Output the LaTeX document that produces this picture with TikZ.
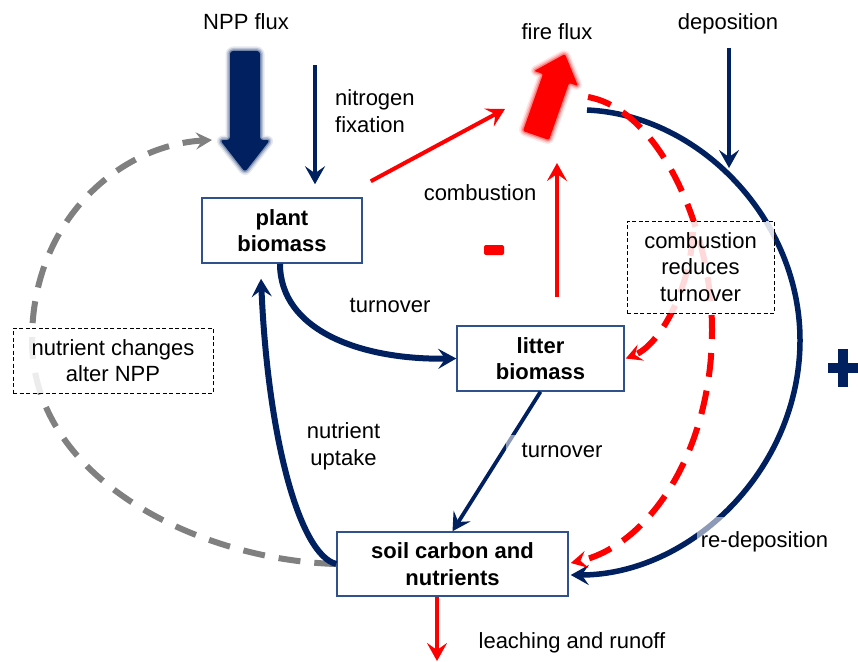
\documentclass[tikz,border=0pt]{standalone}
\usepackage{fontspec}
\setmainfont{Liberation Sans}
\usetikzlibrary{arrows.meta,calc}
\definecolor{navy}{RGB}{0,32,96}
\definecolor{boxblue}{RGB}{47,82,143}
\definecolor{fred}{RGB}{255,0,0}
\definecolor{dgray}{RGB}{128,128,128}
\tikzset{
  bigtip/.tip={Stealth[length=18pt,width=20pt,inset=7pt]},
  smalltip/.tip={Stealth[length=16pt,width=17pt,inset=6pt]},
  lbl/.style={font=\fontsize{22}{26.5}\selectfont, inner sep=0pt, align=center},
  patch/.style={fill=white, fill opacity=0.55, text opacity=1},
  stock/.style={draw=boxblue, line width=1.5pt, fill=white, inner sep=0pt,
    font=\fontsize{22}{26.5}\selectfont\bfseries, align=center},
  note/.style={draw=black, line width=0.9pt, dash pattern=on 4pt off 2.5pt,
    fill=white, fill opacity=0.85, text opacity=1, inner sep=0pt,
    font=\fontsize{22}{26.5}\selectfont, align=center},
  thickflow/.style={draw=navy, line width=6pt, -bigtip},
  thinflow/.style={draw=navy, line width=3.8pt, -bigtip},
  redflow/.style={draw=fred, line width=4pt, -bigtip},
  reddash/.style={draw=fred, line width=6pt, dash pattern=on 24pt off 14pt, -smalltip},
  graydash/.style={draw=dgray, line width=6pt, dash pattern=on 22pt off 14pt, -smalltip},
}
\begin{document}
\begin{tikzpicture}[x=1pt,y=-1pt]
\useasboundingbox (0,0) rectangle (858,661);

% stocks
\node[stock, minimum width=160pt, minimum height=65pt] (plant) at (282,230.5) {plant\\biomass};
\node[stock, minimum width=167pt, minimum height=65pt] (litter) at (540.5,358.5) {litter\\biomass};
\node[stock, minimum width=231pt, minimum height=64pt] (soil) at (452.5,564) {soil carbon and\\nutrients};

% free ends
\coordinate (nppL) at (212,140);
\coordinate (nfixTop) at (315,65);
\coordinate (depTop) at (729,48);
\coordinate (depTip) at (729,168);
\coordinate (fireIn) at (505,109);
\coordinate (fireBot) at (557,163);
\coordinate (arcStart) at (587,110);
\coordinate (rdStart) at (588,97);
\coordinate (rbStart) at (693,232);
\coordinate (leachEnd) at (437,661);

% grey feedback
\draw[graydash] (soil.west) .. controls (200,560) and (32,480) .. (32,340)
  .. controls (32,220) and (120,145) .. (nppL);

% navy flows
\draw[thickflow] (soil.west) .. controls (300,555) and (268,440) .. ($(plant.south)+(-21,15)$);
\draw[thickflow] ($(plant.south)+(-2,0)$) .. controls (280,330) and (360,360) .. (litter.west);
\draw[thinflow] (litter.south) -- (soil.north);
\draw[thinflow] (nfixTop) -- ($(plant.north)+(33,-13)$);
\draw[draw=navy, line width=5.5pt, -bigtip] (arcStart) .. controls (700,115) and (800,220) .. (800,340)
  .. controls (800,470) and (690,575) .. ($(soil.east)+(2,11)$);
\draw[thinflow] (depTop) -- (depTip);

% red flows
\draw[redflow] ($(plant.north east)+(8,-16)$) -- (fireIn);
\draw[redflow] ($(litter.north)+(16.5,-28)$) -- (fireBot);
\draw[reddash] (rdStart) .. controls (660,110) and (712,230) .. (712,330)
  .. controls (712,450) and (650,545) .. ($(soil.east)+(2,-1)$);
\draw[reddash] (rbStart) .. controls (690,290) and (660,345) .. ($(litter.east)+(1,0)$);
\draw[draw=fred, line width=3.5pt, -bigtip] ($(soil.south)+(-15.5,0)$) -- (leachEnd);

% NPP flux arrow (soft edged)
\foreach \w/\o in {9/0.1,6/0.18,3/0.3}
  \draw[navy, line width=\w pt, draw opacity=\o, line join=round, rounded corners=3pt]
    (230,51) -- (260,51) -- (260,140) -- (270,140) -- (245,172) -- (220,140) -- (230,140) -- cycle;
\fill[navy, rounded corners=3pt]
  (230,51) -- (260,51) -- (260,140) -- (270,140) -- (245,172) -- (220,140) -- (230,140) -- cycle;

% fire flux arrow (soft edged)
\foreach \w/\o in {9/0.1,6/0.18,3/0.3}
  \draw[fred, line width=\w pt, draw opacity=\o, line join=round, rounded corners=2pt]
    (523,131) -- (543,74) -- (534,71) -- (565,54) -- (578,86) -- (569,83) -- (549,140) -- cycle;
\fill[fred, rounded corners=2pt]
  (523,131) -- (543,74) -- (534,71) -- (565,54) -- (578,86) -- (569,83) -- (549,140) -- cycle;

% labels
\node[lbl, anchor=base] (npplbl) at (246,30) {NPP flux};
\node[lbl, anchor=base west, align=left] (nfixlbl) at (335,132) {nitrogen\\fixation};
\node[lbl, anchor=base] (firelbl) at (557,40) {fire flux};
\node[lbl, anchor=base] (deplbl) at (728,30) {deposition};
\node[lbl, anchor=base] (comblbl) at (480,200) {combustion};
\node[lbl, anchor=base] (turn1) at (390,312) {turnover};
\node[lbl, patch, anchor=base, inner xsep=16pt, inner ysep=8pt] (turn2) at (562,457) {turnover};
\node[lbl, anchor=base] (uptlbl) at (343.5,465) {nutrient\\uptake};
\node[lbl, patch, anchor=base, inner xsep=4pt, inner ysep=14pt] (redep) at (764.5,547) {re-deposition};
\node[lbl, anchor=base] (leachlbl) at (572,648) {leaching and runoff};

% notes
\node[note, minimum width=147pt, minimum height=92pt] (note1) at (700.5,267) {combustion\\reduces\\turnover};
\node[note, minimum width=200pt, minimum height=65pt] (note2) at (113,360.5) {nutrient changes\\alter NPP};

% signs
\fill[fred, rounded corners=2pt] (484,245) rectangle (504,255);
\draw[navy, line width=10pt] (828,368) -- (858,368);
\draw[navy, line width=10pt] (843,349) -- (843,387);
\end{tikzpicture}
\end{document}
